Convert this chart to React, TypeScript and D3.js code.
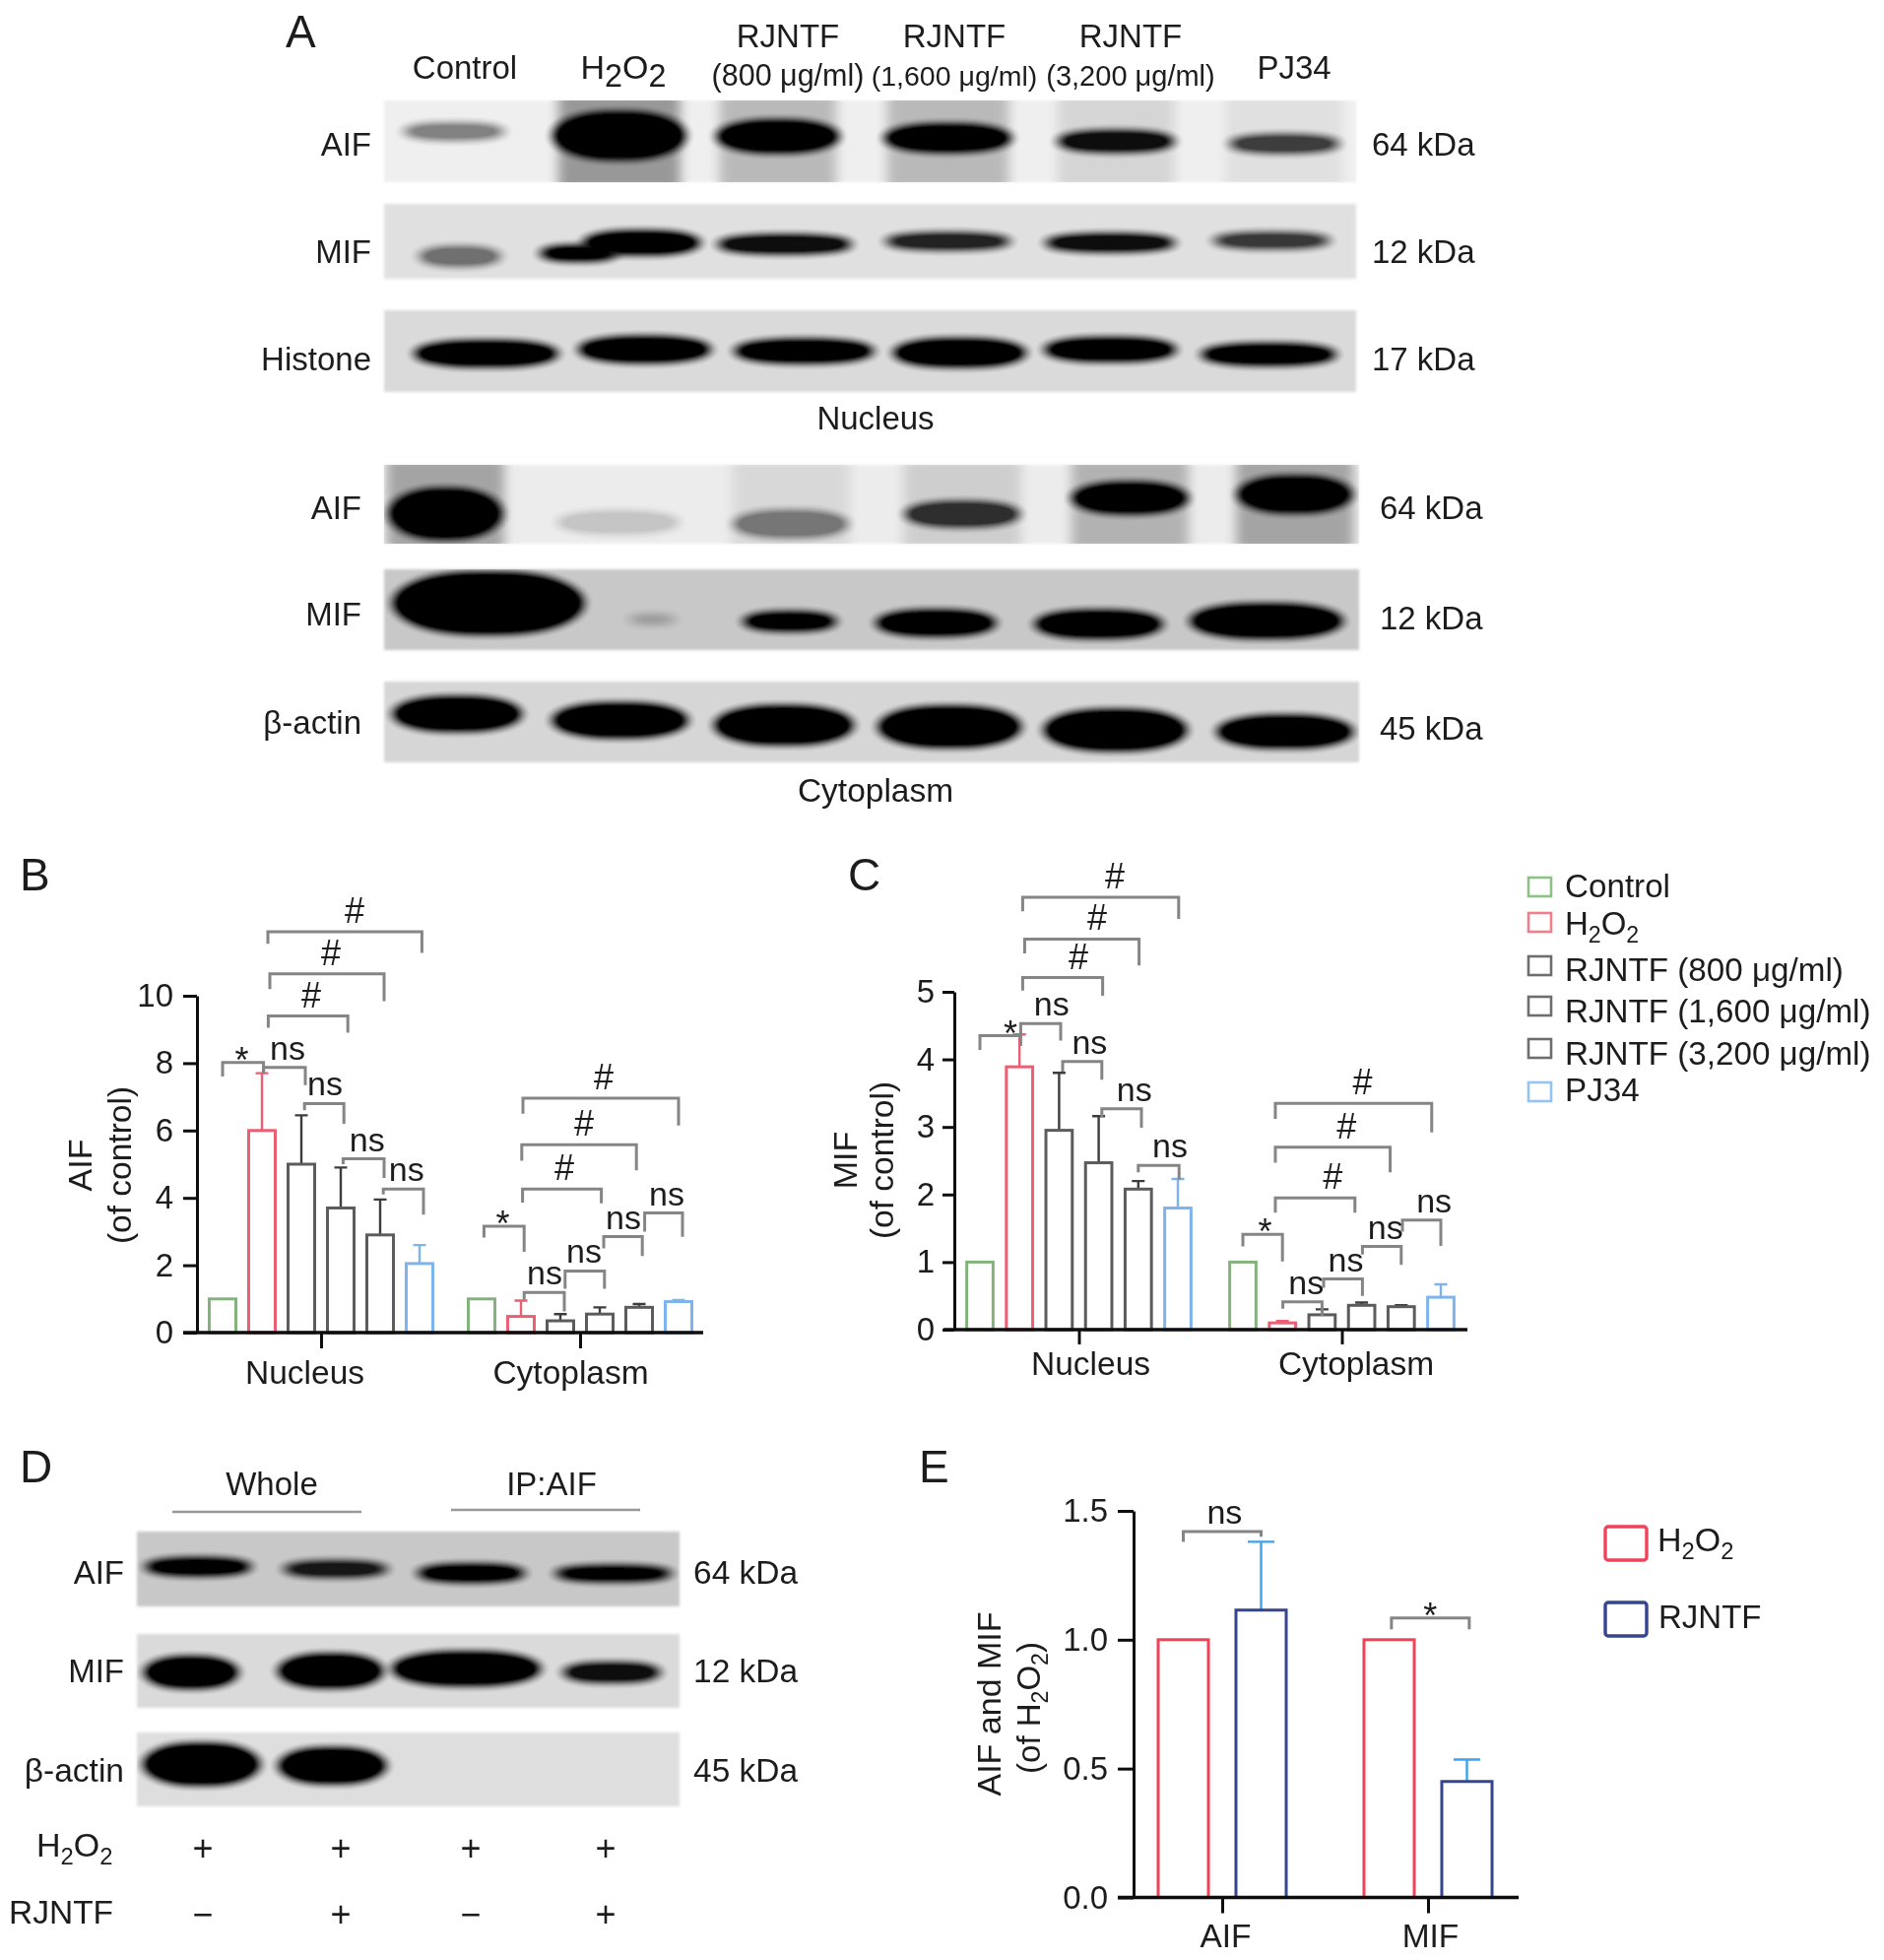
import React, { useEffect, useRef } from 'react';
import * as d3 from 'd3';

const FONT = '"Liberation Sans", Arial, sans-serif';

// lane headers + blots
const laneHeaders = ['Control', 'PJ34'];
const doseLabels = ['(800 μg/ml)', '(1,600 μg/ml)', '(3,200 μg/ml)'];
const legendSeries = ['Control', 'H2O2', 'RJNTF (800 μg/ml)', 'RJNTF (1,600 μg/ml)', 'RJNTF (3,200 μg/ml)', 'PJ34'];

// bands are [centre x %, centre y %, width %, height %, density], read from the membrane
type Band = [number, number, number, number, number];
// smears are [centre x %, width %, darkness]
type Smear = [number, number, number];

const nucAifBands: Band[] = [[7.2, 38, 10.5, 14, 0.45], [24.2, 43, 13.3, 42, 1], [40.5, 44, 12.4, 28, 1], [58, 46, 12.9, 24, 1], [75.3, 50, 12, 18, 0.92], [92.6, 53, 11.4, 15, 0.72]];
const nucAifSmears: Smear[] = [[24.2, 12.5, 0.36], [40.5, 12, 0.22], [58, 12.5, 0.22], [75.3, 12, 0.1], [92.6, 12, 0.06]];
const nucMifBands: Band[] = [[7.8, 70, 8.4, 18, 0.5], [20, 66, 8, 14, 1], [26.5, 52, 12, 22, 1], [41.2, 54, 13.9, 17, 0.95], [58, 50, 13, 15, 0.85], [74.7, 52, 13.5, 16, 0.95], [91.3, 49, 12.2, 14, 0.75]];
const nucHistoneBands: Band[] = [[10.5, 53, 14.7, 22, 1], [26.8, 48, 13.5, 22, 1], [43.2, 50, 14.3, 20, 1], [59.2, 52, 13.5, 24, 1], [74.7, 48, 13.5, 20, 1], [91, 54, 13.9, 18, 1]];
const cytAifBands: Band[] = [[6.3, 62, 11.3, 46, 1], [24, 73, 12.5, 20, 0.16], [41.7, 75, 11.7, 24, 0.45], [59.3, 62.5, 11.7, 22, 0.78], [76.5, 42, 11.7, 28, 1], [93.4, 37.5, 11.5, 33, 1]];
const cytAifSmears: Smear[] = [[6.3, 12, 0.3], [41.7, 12, 0.08], [59.3, 12, 0.12], [76.5, 12, 0.24], [93.4, 12, 0.3]];
const cytMifBands: Band[] = [[10.7, 42, 19.3, 55, 1], [27.5, 62, 5, 8, 0.22], [41.6, 64.5, 9.6, 16, 1], [56.6, 66.5, 12.2, 22, 1], [73.3, 68, 13, 24, 1], [90.5, 64, 15.5, 30, 1]];
const cytActinBands: Band[] = [[7.5, 40, 13, 30, 1], [24.2, 48, 13.7, 30, 1], [41, 54, 14, 34, 1], [58, 56, 14.4, 36, 1], [75, 60, 14.4, 36, 1], [92.4, 62, 13.8, 28, 1]];
const wholeAifBands: Band[] = [[11.3, 47, 19.8, 16, 1], [36.6, 50, 19.5, 14, 0.88], [61.6, 55.5, 20, 16, 1], [87.8, 56, 21.8, 14, 1]];
const wholeMifBands: Band[] = [[10, 52, 17, 30, 1], [35.7, 50, 19, 32, 1], [60.7, 47, 27, 32, 1], [87.5, 52, 18, 18, 0.92]];
const wholeActinBands: Band[] = [[11.9, 43, 21, 40, 1], [36, 45, 19.5, 34, 1]];

// B: AIF
const barGroups = ['Nucleus', 'Cytoplasm'];
const barSeries = ['Control', 'H2O2', 'R800', 'R1600', 'R3200', 'PJ34'];
const bNucleus = [1, 6.0, 5.0, 3.7, 2.9, 2.05];
const bNucleusTop = [1, 7.7, 6.45, 4.9, 3.95, 2.6];
const bCytoplasm = [1, 0.48, 0.35, 0.55, 0.75, 0.92];
const bCytoplasmTop = [1, 0.95, 0.55, 0.75, 0.85, 0.97];
// C: MIF
const cNucleus = [1, 3.89, 2.95, 2.47, 2.08, 1.8];
const cNucleusTop = [1, 4.37, 3.8, 3.16, 2.2, 2.23];
const cCytoplasm = [1, 0.1, 0.22, 0.36, 0.34, 0.48];
const cCytoplasmTop = [1, 0.13, 0.3, 0.4, 0.36, 0.67];
// E
const eGroups = ['AIF', 'MIF'];
const eSeries = ['H2O2', 'RJNTF'];
const eAif = [1, 1.115];
const eAifTop = [1, 1.38];
const eMif = [1, 0.45];
const eMifTop = [1, 0.535];

// brackets: [group, from bar, to bar, top value, left leg end, right leg end, label, label at bar]
type Bracket = [number, number, number, number, number, number, string, number];
const bBrackets: Bracket[] = [
  [0, 0, 1.04, 8.02, 7.6, 7.7, '*', 0.49],
  [0, 1.04, 2.1, 7.87, 7.7, 7.35, 'ns', 1.65],
  [0, 2.08, 3.08, 6.8, 6.6, 6.2, 'ns', 2.6],
  [0, 3.06, 4.1, 5.16, 5, 4.59, 'ns', 3.67],
  [0, 4.08, 5.1, 4.26, 4.1, 3.5, 'ns', 4.67],
  [0, 1.16, 3.18, 9.4, 9.05, 8.9, '#', 2.25],
  [0, 1.2, 4.1, 10.65, 10.2, 9.84, '#', 2.75],
  [0, 1.15, 5.06, 11.9, 11.54, 11.27, '#', 3.35],
  [1, 0.06, 1.08, 3.16, 2.82, 2.4, '*', 0.54],
  [1, 1.08, 2.1, 1.19, 0.98, 0.63, 'ns', 1.6],
  [1, 2.12, 3.12, 1.83, 1.3, 1.3, 'ns', 2.6],
  [1, 3.1, 4.08, 2.85, 2.5, 2.27, 'ns', 3.6],
  [1, 4.14, 5.1, 3.55, 3, 2.84, 'ns', 4.7],
  [1, 1.04, 3.04, 4.26, 3.86, 3.84, '#', 2.1],
  [1, 1.02, 3.93, 5.58, 5.1, 4.82, '#', 2.6],
  [1, 1.05, 5, 6.96, 6.5, 6.15, '#', 3.1],
];
const cBrackets: Bracket[] = [
  [0, 0, 1.03, 4.35, 4.14, 4.2, '*', 0.77],
  [0, 1.03, 2.04, 4.53, 4.35, 4.28, 'ns', 1.81],
  [0, 2.09, 3.08, 3.97, 3.82, 3.7, 'ns', 2.77],
  [0, 3.08, 4.08, 3.27, 3.15, 2.99, 'ns', 3.9],
  [0, 4.0, 5.03, 2.43, 2.33, 2.22, 'ns', 4.8],
  [0, 1.08, 3.1, 5.21, 5.02, 4.94, '#', 2.49],
  [0, 1.13, 4.02, 5.78, 5.57, 5.39, '#', 2.96],
  [0, 1.08, 5.02, 6.4, 6.19, 6.08, '#', 3.41],
  [1, 0, 1, 1.41, 1.23, 1.01, '*', 0.56],
  [1, 1.01, 2, 0.41, 0.31, 0.2, 'ns', 1.6],
  [1, 2.04, 3.02, 0.75, 0.62, 0.5, 'ns', 2.6],
  [1, 3.02, 4, 1.23, 1.11, 0.96, 'ns', 3.6],
  [1, 4.03, 5, 1.62, 1.45, 1.24, 'ns', 4.83],
  [1, 0.82, 2.83, 1.95, 1.73, 1.73, '#', 2.27],
  [1, 0.82, 3.72, 2.7, 2.47, 2.33, '#', 2.62],
  [1, 0.82, 4.77, 3.35, 3.12, 2.92, '#', 3.02],
];
const eBrackets: Bracket[] = [
  [0, 0, 1, 1.42, 1.38, 1.4, 'ns', 0.53],
  [1, 0.03, 1.03, 1.084, 1.04, 1.04, '*', 0.53],
];

const GREEN = '#84b27c';
const RED = '#ea5f73';
const GREY = '#5c5c5c';
const BLUE = '#7db4ee';
const barColors = [GREEN, RED, GREY, GREY, GREY, BLUE];
const legendColors = ['#8fc088', '#f07f8b', '#6e6e6e', '#6e6e6e', '#6e6e6e', '#93c4f2'];

type Sel = d3.Selection<any, any, any, any>;

function label(g: Sel, x: number, y: number, str: string, size = 32, anchor = 'start') {
  return g.append('text').attr('x', x).attr('y', y).attr('font-size', size)
    .attr('text-anchor', anchor).attr('fill', '#1c1c1c').text(str);
}

// text with lowered digits, the 2s go down a bit
function chem(g: Sel, x: number, y: number, parts: string[], size = 32, anchor = 'start', subScale = 0.7, transform?: string) {
  const t = g.append('text').attr('x', x).attr('y', y).attr('font-size', size)
    .attr('text-anchor', anchor).attr('fill', '#1c1c1c');
  if (transform) t.attr('transform', transform);
  let low = false;
  parts.forEach((p) => {
    const sub = p === '2';
    const s = t.append('tspan').text(p).attr('font-size', sub ? size * subScale : size);
    if (sub && !low) { s.attr('dy', size * 0.24); low = true; }
    else if (!sub && low) { s.attr('dy', -size * 0.24); low = false; }
  });
  return t;
}

function blot(svg: Sel, id: string, x0: number, x1: number, y0: number, y1: number, tone: string, bands: Band[], smears: Smear[] = []) {
  const x = d3.scaleLinear().domain([0, 100]).range([x0, x1]);
  const y = d3.scaleLinear().domain([0, 100]).range([y0, y1]);
  svg.append('clipPath').attr('id', id).append('rect')
    .attr('x', x0).attr('y', y0).attr('width', x1 - x0).attr('height', y1 - y0);
  svg.append('rect').attr('x', x0).attr('y', y0).attr('width', x1 - x0).attr('height', y1 - y0)
    .attr('fill', tone).attr('filter', 'url(#edge)');
  const g = svg.append('g').attr('clip-path', `url(#${id})`);
  g.selectAll('.smear').data(smears).enter().append('rect')
    .attr('x', (d) => x(d[0] - d[1] / 2)).attr('y', y0 - 14)
    .attr('width', (d) => x(d[1]) - x0).attr('height', y1 - y0 + 28)
    .attr('fill', '#000').attr('opacity', (d) => d[2]).attr('filter', 'url(#smear)');
  // bands come out thin after the blur so they get grown a bit
  const grow = 1.35;
  g.selectAll('.band').data(bands).enter().append('rect')
    .attr('x', (d) => x(d[0] - d[2] / 2)).attr('y', (d) => y(d[1] - (d[3] * grow) / 2))
    .attr('width', (d) => x(d[2]) - x0).attr('height', (d) => y(d[3] * grow) - y0)
    .attr('rx', (d) => (x(d[2]) - x0) * 0.42).attr('ry', (d) => (y(d[3] * grow) - y0) * 0.5)
    .attr('fill', '#000').attr('opacity', (d) => d[4]).attr('filter', 'url(#band)');
}

interface ChartOpts {
  groups: string[];
  series: string[];
  colors: string[];
  errColors: string[];
  values: number[][];
  tops: number[][];
  brackets: Bracket[];
  ticks: number[];
  tickFormat: (d: number) => string;
  domainMax: number;
  xTicks: [number, number];
  halfWidth: number;
  paddingInner: number;
  paddingOuter: number;
  xLine: [number, number];
  axisX: number;
  yRange: [number, number];
  yTickLen: number;
  yPad: number;
  xTickLen: number;
  xLabelY: number;
  xLabelShift: number[];
  capWidth: number;
  fontSize: number;
  stroke: number;
}

function barChart(svg: Sel, o: ChartOpts) {
  const y = d3.scaleLinear().domain([0, o.domainMax]).range(o.yRange);
  const gx = d3.scalePoint<string>().domain(o.groups).range(o.xTicks);
  const bx = d3.scaleBand<string>().domain(o.series).range([-o.halfWidth, o.halfWidth])
    .paddingInner(o.paddingInner).paddingOuter(o.paddingOuter);
  const first = bx(o.series[0])! + bx.bandwidth() / 2;
  const pos = (g: number, b: number) => gx(o.groups[g])! + first + b * bx.step();

  const g = svg.append('g');
  o.values.forEach((vals, gi) => {
    const grp = g.append('g');
    const rows = vals.map((v, i) => ({ v, i, top: o.tops[gi][i] }));
    grp.selectAll('.err').data(rows.filter((d) => d.top > d.v)).enter().append('path')
      .attr('d', (d) => {
        const c = pos(gi, d.i);
        return `M${c},${y(d.v)}V${y(d.top)}M${c - o.capWidth / 2},${y(d.top)}H${c + o.capWidth / 2}`;
      })
      .attr('fill', 'none').attr('stroke', (d) => o.errColors[d.i]).attr('stroke-width', 2.4);
    grp.selectAll('.bar').data(rows).enter().append('rect')
      .attr('x', (d) => pos(gi, d.i) - bx.bandwidth() / 2)
      .attr('y', (d) => y(d.v))
      .attr('width', bx.bandwidth())
      .attr('height', (d) => y(0) - y(d.v))
      .attr('fill', 'none')
      .attr('stroke', (d) => o.colors[d.i])
      .attr('stroke-width', o.stroke);
  });

  g.selectAll('.bracket').data(o.brackets).enter().append('path')
    .attr('d', (d) => `M${pos(d[0], d[1])},${y(d[4])}V${y(d[3])}H${pos(d[0], d[2])}V${y(d[5])}`)
    .attr('fill', 'none').attr('stroke', '#858585').attr('stroke-width', 3);
  g.selectAll('.sig').data(o.brackets).enter().append('text')
    .attr('x', (d) => pos(d[0], d[7]))
    .attr('y', (d) => y(d[3]) + (d[6] === '*' ? 10 : d[6] === '#' ? -9 : -8))
    .attr('text-anchor', 'middle')
    .attr('font-size', (d) => (d[6] === '*' ? 36 : d[6] === '#' ? 36 : 34))
    .attr('fill', '#1c1c1c')
    .text((d) => d[6]);

  const yAxis = g.append('g').attr('transform', `translate(${o.axisX},0)`)
    .call(d3.axisLeft(y).tickValues(o.ticks).tickFormat(o.tickFormat as any).tickSize(o.yTickLen).tickSizeOuter(0).tickPadding(o.yPad));
  yAxis.selectAll('path,line').attr('stroke', '#111').attr('stroke-width', 3);
  yAxis.selectAll('text').attr('font-size', o.fontSize).attr('font-family', FONT).attr('fill', '#1c1c1c');

  const xAxis = g.append('g').attr('transform', `translate(0,${y(0)})`)
    .call(d3.axisBottom(gx).tickSize(o.xTickLen).tickPadding(4));
  xAxis.select('.domain').remove();
  xAxis.selectAll('line').attr('stroke', '#111').attr('stroke-width', 3);
  xAxis.selectAll('text').attr('font-size', o.fontSize + 0.5).attr('font-family', FONT).attr('fill', '#1c1c1c')
    .attr('dy', 0).attr('y', o.xLabelY).attr('dx', (_, i) => o.xLabelShift[i]);
  g.append('line').attr('x1', o.xLine[0]).attr('x2', o.xLine[1]).attr('y1', y(0)).attr('y2', y(0))
    .attr('stroke', '#111').attr('stroke-width', 3.4);
}

function rotated(g: Sel, cx: number, cy: number, str: string, size: number) {
  return g.append('text').attr('transform', `translate(${cx},${cy}) rotate(-90)`)
    .attr('text-anchor', 'middle').attr('font-size', size).attr('fill', '#1c1c1c').text(str);
}

function App() {
  const ref = useRef<SVGSVGElement>(null);

  useEffect(() => {
    const root = d3.select(ref.current);
    root.selectAll('*').remove();
    const defs = root.append('defs');
    const blurFilter = (id: string, sd: number | string, slope = 1, icpt = 0) => {
      const f = defs.append('filter').attr('id', id).attr('x', '-50%').attr('y', '-100%').attr('width', '200%').attr('height', '300%');
      f.append('feGaussianBlur').attr('stdDeviation', sd);
      if (slope !== 1) f.append('feComponentTransfer').append('feFuncA').attr('type', 'linear').attr('slope', slope).attr('intercept', icpt);
    };
    blurFilter('edge', 1.6);
    blurFilter('smear', 6);
    blurFilter('band', '7 5', 1.55, -0.05);
    blurFilter('soft', 0.7);

    const svg: Sel = root.append('g').attr('font-family', FONT).attr('filter', 'url(#soft)');

    // panel letters
    const panelLetters: [string, number, number][] = [['A', 290, 48], ['B', 20, 904], ['C', 861, 904], ['D', 20, 1505], ['E', 933, 1505]];
    panelLetters.forEach(([s, x, y]) => label(svg, x, y, s, 46));

    // panel A headers
    label(svg, 472, 80, laneHeaders[0], 33, 'middle');
    chem(svg, 633, 80, ['H', '2', 'O', '2'], 34, 'middle', 0.95);
    const doseX = [800, 969, 1148];
    const doseSize = [30.5, 28.5, 29];
    doseLabels.forEach((d, i) => {
      label(svg, doseX[i], 48, 'RJNTF', 33, 'middle');
      label(svg, doseX[i], 87, d, doseSize[i], 'middle');
    });
    label(svg, 1314, 80, laneHeaders[1], 33, 'middle');

    // nucleus blots
    blot(svg, 'nA', 390, 1377, 102, 185, '#efefef', nucAifBands, nucAifSmears);
    blot(svg, 'nM', 390, 1377, 207, 283, '#e0e0e0', nucMifBands);
    blot(svg, 'nH', 390, 1377, 315, 398, '#dadada', nucHistoneBands);
    label(svg, 377, 158, 'AIF', 33, 'end');
    label(svg, 377, 267, 'MIF', 33, 'end');
    label(svg, 377, 376, 'Histone', 33, 'end');
    label(svg, 1393, 158, '64 kDa', 33);
    label(svg, 1393, 267, '12 kDa', 33);
    label(svg, 1393, 376, '17 kDa', 33);
    label(svg, 889, 436, 'Nucleus', 33, 'middle');

    // cytoplasm blots
    blot(svg, 'cA', 390, 1380, 472, 552, '#ececec', cytAifBands, cytAifSmears);
    blot(svg, 'cM', 390, 1380, 578, 660, '#c8c8c8', cytMifBands);
    blot(svg, 'cB', 390, 1380, 692, 774, '#d6d6d6', cytActinBands);
    label(svg, 367, 527, 'AIF', 33, 'end');
    label(svg, 367, 635, 'MIF', 33, 'end');
    label(svg, 367, 745, 'β-actin', 33, 'end');
    label(svg, 1401, 527, '64 kDa', 33);
    label(svg, 1401, 639, '12 kDa', 33);
    label(svg, 1401, 751, '45 kDa', 33);
    label(svg, 889, 814, 'Cytoplasm', 33.5, 'middle');

    // B
    barChart(svg, {
      groups: barGroups, series: barSeries, colors: barColors,
      errColors: [GREEN, RED, '#3c3c3c', '#3c3c3c', '#3c3c3c', BLUE],
      values: [bNucleus, bCytoplasm], tops: [bNucleusTop, bCytoplasmTop], brackets: bBrackets,
      ticks: [0, 2, 4, 6, 8, 10], tickFormat: (d) => String(d), domainMax: 10,
      xTicks: [326, 589], halfWidth: 120, paddingInner: 0.325, paddingOuter: 0.1625,
      xLine: [186, 714], axisX: 200, yRange: [1353, 1011], yTickLen: 14, yPad: 10,
      xTickLen: 16, xLabelY: 52, xLabelShift: [-17, -10], capWidth: 13, fontSize: 33, stroke: 3,
    });
    rotated(svg, 93, 1183, 'AIF', 34);
    rotated(svg, 133, 1183, '(of control)', 33.5);

    // C
    barChart(svg, {
      groups: barGroups, series: barSeries, colors: barColors,
      errColors: [GREEN, RED, '#3c3c3c', '#3c3c3c', '#3c3c3c', BLUE],
      values: [cNucleus, cCytoplasm], tops: [cNucleusTop, cCytoplasmTop], brackets: cBrackets,
      ticks: [0, 1, 2, 3, 4, 5], tickFormat: (d) => String(d), domainMax: 5,
      xTicks: [1095.5, 1362.5], halfWidth: 120.6, paddingInner: 0.335, paddingOuter: 0.1675,
      xLine: [958, 1490], axisX: 969, yRange: [1350, 1007], yTickLen: 12, yPad: 8,
      xTickLen: 15, xLabelY: 46, xLabelShift: [11.5, 14], capWidth: 13, fontSize: 33, stroke: 3,
    });
    rotated(svg, 870, 1178, 'MIF', 34);
    rotated(svg, 907, 1178, '(of control)', 33.5);

    // legend next to C
    const legendMid = [900.5, 936.5, 980.5, 1021.5, 1064.5, 1108.5];
    const legendBase = [911, 949, 996, 1038, 1081, 1118];
    const legend = svg.append('g');
    legend.selectAll('rect').data(legendSeries).enter().append('rect')
      .attr('x', 1552).attr('width', 23).attr('height', 19)
      .attr('y', (_, i) => legendMid[i] - 9.5)
      .attr('fill', 'none').attr('stroke', (_, i) => legendColors[i]).attr('stroke-width', 2.6);
    legendSeries.forEach((s, i) => {
      if (s === 'H2O2') chem(legend, 1589, legendBase[i], ['H', '2', 'O', '2'], 33);
      else label(legend, 1589, legendBase[i], s, 33.2);
    });

    // D
    blot(svg, 'dA', 139, 690, 1555, 1631, '#c8c8c8', wholeAifBands);
    blot(svg, 'dM', 139, 690, 1659, 1734, '#dadada', wholeMifBands);
    blot(svg, 'dB', 139, 690, 1759, 1834, '#dedede', wholeActinBands);
    label(svg, 276, 1518, 'Whole', 33, 'middle');
    label(svg, 560, 1518, 'IP:AIF', 33, 'middle');
    const rules: [number, number, number][] = [[175, 367, 1535], [458, 650, 1533]];
    rules.forEach(([a, b, y]) => svg.append('line').attr('x1', a).attr('x2', b).attr('y1', y).attr('y2', y).attr('stroke', '#999').attr('stroke-width', 2.4));
    label(svg, 126, 1608, 'AIF', 33, 'end');
    label(svg, 126, 1708, 'MIF', 33, 'end');
    label(svg, 126, 1809, 'β-actin', 33.5, 'end');
    label(svg, 704, 1608, '64 kDa', 33.5);
    label(svg, 704, 1708, '12 kDa', 33.5);
    label(svg, 704, 1809, '45 kDa', 33.5);
    chem(svg, 37, 1885, ['H', '2', 'O', '2'], 34);
    label(svg, 9, 1953, 'RJNTF', 33.5);
    const treatX = [206, 346, 478, 615];
    const h2o2Signs = ['+', '+', '+', '+'];
    const rjntfSigns = ['−', '+', '−', '+'];
    treatX.forEach((x, i) => {
      label(svg, x, 1889, h2o2Signs[i], 36, 'middle');
      label(svg, x, 1956, rjntfSigns[i], 36, 'middle');
    });

    // E
    barChart(svg, {
      groups: eGroups, series: eSeries, colors: ['#f04258', '#34448f'],
      errColors: ['#f04258', '#3ea2ea'],
      values: [eAif, eMif], tops: [eAifTop, eMifTop], brackets: eBrackets,
      ticks: [0, 0.5, 1, 1.5], tickFormat: (d) => d.toFixed(1), domainMax: 1.5,
      xTicks: [1241, 1450], halfWidth: 79, paddingInner: 0.354, paddingOuter: 0.177,
      xLine: [1135, 1542], axisX: 1151, yRange: [1926.5, 1534], yTickLen: 16, yPad: 10,
      xTickLen: 16, xLabelY: 50.5, xLabelShift: [3, 2], capWidth: 27, fontSize: 33, stroke: 3,
    });
    rotated(svg, 1016, 1730, 'AIF and MIF', 34);
    chem(svg, 0, 0, ['(of H', '2', 'O', '2', ')'], 33, 'middle', 0.7, 'translate(1056,1734) rotate(-90)');
    const eLegend = svg.append('g');
    eLegend.selectAll('rect').data(eSeries).enter().append('rect')
      .attr('x', 1630).attr('width', 42).attr('height', 34).attr('rx', 3)
      .attr('y', (_, i) => 1550 + i * 77)
      .attr('fill', 'none').attr('stroke', (_, i) => ['#f04258', '#34448f'][i]).attr('stroke-width', 3.4);
    chem(eLegend, 1683, 1575, ['H', '2', 'O', '2'], 34);
    label(eLegend, 1684, 1653, 'RJNTF', 33);
  }, []);

  return <svg ref={ref} width={1913} height={1990} style={{ position: 'absolute', left: 0, top: 0, background: '#fff' }} />;
}

export default App;
